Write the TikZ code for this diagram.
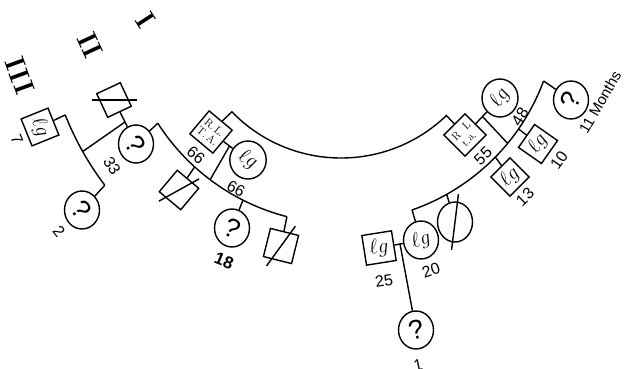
\documentclass[tikz,border=0pt]{standalone}
\usepackage{fontspec}
\usepackage{graphicx}
\setsansfont{Liberation Sans}
\usetikzlibrary{calc,shapes.geometric}
\newcommand{\lgmark}{{\fontsize{22}{22}\selectfont$\ell g$}}
\newcommand{\qmark}{{\sffamily\fontsize{27}{27}\selectfont ?}}
\begin{document}
\begin{tikzpicture}[x=1pt,y=-1pt,line width=1.4pt,
  sq/.style={draw,rectangle,minimum size=29pt,inner sep=0pt},
  ci/.style={draw,ellipse,minimum width=35pt,minimum height=38pt,inner sep=0pt},
  age/.style={font=\sffamily\fontsize{16}{16}\selectfont,inner sep=0pt},
  gen/.style={font=\bfseries\fontsize{28}{28}\selectfont,inner sep=0pt},
  initials/.style={align=center,font=\fontsize{11}{11}\selectfont}]
\useasboundingbox (0,0) rectangle (626,368);
\coordinate (C) at (341,6);

% generation numerals
\node[gen,rotate=-57] (gI) at (146,20) {I};
\node[gen,rotate=-65] (gII) at (90,45) {II};
\node[gen,rotate=-70] (gIII) at (20,76) {III};

% generation I
\node[sq,minimum size=30pt,rotate=-40,initials] (L1) at (211,132) {R.\,L.\\T.\,A.};
\node[ci] (L2) at (248,160) {\rotatebox{-31}{\lgmark}};
\node[sq,minimum size=30pt,rotate=45,initials] (R1) at (465,135) {R\ \ L\\t.a.};
\node[ci] (R2) at (500,98) {\rotatebox{60}{\lgmark}};

% generation II, left
\node[sq,minimum size=26pt,rotate=25] (B0) at (114,100) {};
\node[ci] (A1) at (136,144) {\rotatebox{-56}{\qmark}};
\node[sq,minimum size=28pt,rotate=-40] (A2) at (179,190) {};
\node[ci] (A3) at (232,228) {\rotatebox{-26}{\qmark}};
\node[sq,rotate=-14] (A4) at (281,246) {};

% generation III, left
\node[sq,rotate=-68] (G1) at (40,127) {\lgmark};
\node[ci] (G2) at (82,210) {\rotatebox{-52}{\qmark}};

% generation II, right
\node[ci] (D1) at (571,100) {\rotatebox{68}{\qmark}};
\node[sq,minimum size=28pt,rotate=55] (D2) at (538,144) {\lgmark};
\node[sq,minimum size=27pt,rotate=45] (D3) at (510,177) {\lgmark};
\node[ci,minimum height=40pt] (D4) at (455,222) {};
\node[ci] (D5) at (421,240) {\rotatebox{19}{\lgmark}};
\node[sq,minimum size=30pt,rotate=9] (E1) at (379,248) {\lgmark};
\node[ci] (F1) at (416,330) {\rotatebox{13}{\qmark}};

% labels
\node[age,rotate=-58] (n33) at (112,166) {33};
\node[age,rotate=-67] (n7) at (17,139) {7};
\node[age,rotate=-51] (n2) at (59,231) {2};
\node[age,rotate=-40] (n66a) at (196,155) {66};
\node[age,rotate=-28] (n66b) at (236,189) {66};
\node[age,rotate=-22,font=\sffamily\bfseries\fontsize{17}{17}\selectfont] (n18) at (224,261) {18};
\node[age,rotate=44] (n55) at (483,156) {55};
\node[age,rotate=58] (n48) at (520,117) {48};
\node[age,rotate=55] (n10) at (559,160) {10};
\node[age,rotate=44] (n13) at (525,197) {13};
\node[age,rotate=60,font=\sffamily\fontsize{15}{15}\selectfont] (nmo) at (600,102) {11 Months};
\node[age,rotate=19] (n20) at (431,270) {20};
\node[age,rotate=9] (n25) at (384,281) {25};
\node[age,rotate=12] (n1) at (418,365) {1};

% big arc joining the two generation-I men
\draw (L1) -- ([shift={(135.9:152)}]C) arc[start angle=135.9,end angle=46.1,radius=152] -- (R1);

% left family
\draw (L1) -- (L2);
\draw ($(L1)!0.5!(L2)$) -- ([shift={(127:217.5)}]C);
\draw ([shift={(147.4:217.5)}]C) arc[start angle=147.4,end angle=104.4,radius=217.5];
\draw ([shift={(147.4:217.5)}]C) -- (A1);
\draw ([shift={(132.3:217.5)}]C) -- (A2);
\draw ([shift={(116.8:217.5)}]C) -- (A3);
\draw ([shift={(104.4:217.5)}]C) -- (A4);

\draw (B0) -- (A1);
\draw ($(B0)!0.5!(A1)$) -- ([shift={(150.6:296.5)}]C);
\draw ([shift={(158.45:296.5)}]C) arc[start angle=158.45,end angle=142.8,radius=296.5];
\draw ([shift={(158.45:296.5)}]C) -- (G1);
\draw ([shift={(142.8:296.5)}]C) -- (G2);

% right family
\draw (R1) -- (R2);
\draw ($(R1)!0.5!(R2)$) -- ([shift={(39.5:216)}]C);
\draw ([shift={(20.3:216)}]C) arc[start angle=20.3,end angle=70.8,radius=216];
\draw ([shift={(20.3:216)}]C) -- (D1);
\draw ([shift={(34.7:216)}]C) -- (D2);
\draw ([shift={(44.4:216)}]C) -- (D3);
\draw ([shift={(60.7:216)}]C) -- (D4);
\draw ([shift={(70.8:216)}]C) -- (D5);

\draw (E1) -- (D5);
\draw ($(E1)!0.5!(D5)$) -- (F1);

% deceased marks
\draw ([xshift=-22pt]B0.center) -- ([xshift=23pt]B0.center);
\draw ([shift={(-29:23)}]A2.center) -- ([shift={(151:23)}]A2.center);
\draw ([shift={(-54:24.5)}]A4.center) -- ([shift={(126:24.5)}]A4.center);
\draw ([shift={(-83:28)}]D4.center) -- ([shift={(97:28)}]D4.center);
\end{tikzpicture}
\end{document}
